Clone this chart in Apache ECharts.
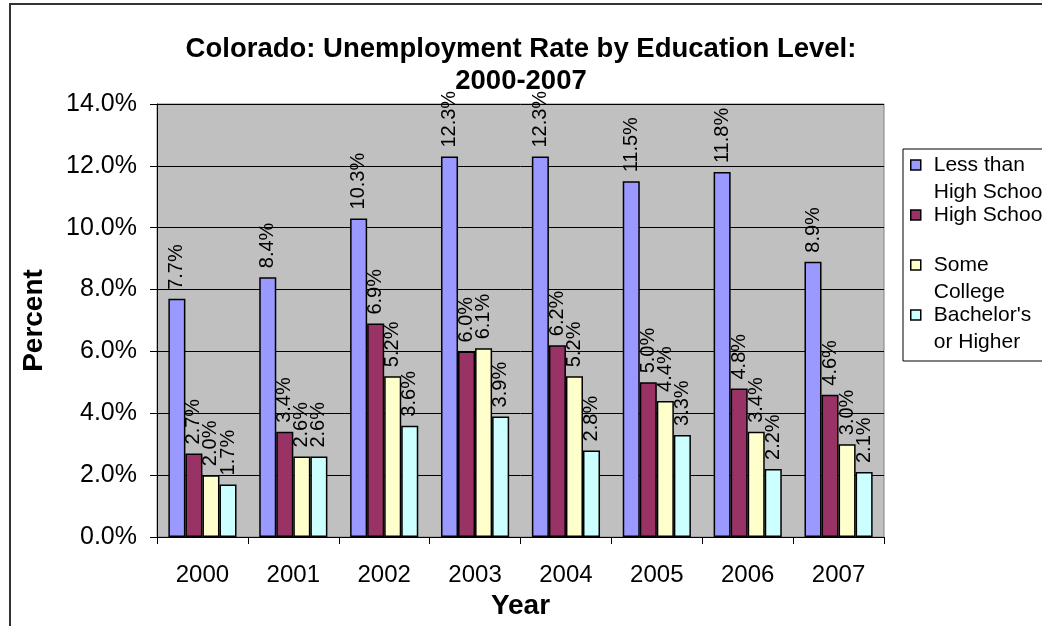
<!DOCTYPE html>
<html>
<head>
<meta charset="utf-8">
<script src="https://cdn.jsdelivr.net/npm/echarts@6/dist/echarts.min.js"></script>
<style>
html,body{margin:0;padding:0;background:#fff;}
#chart{width:1042px;height:626px;}
</style>
</head>
<body>
<div id="chart"></div>
<script>
var years = ['2000','2001','2002','2003','2004','2005','2006','2007'];
var seriesNames = ['Less than High School','High School','Some College',"Bachelor's or Higher"];
var legendLabels = [' \nLess than\nHigh School',' \nHigh School\n ',' \nSome\nCollege'," \nBachelor's\nor Higher"];
var lessThanHS = [7.7, 8.4, 10.3, 12.3, 12.3, 11.5, 11.8, 8.9];
var highSchool = [2.7, 3.4, 6.9, 6.0, 6.2, 5.0, 4.8, 4.6];
var someCollege = [2.0, 2.6, 5.2, 6.1, 5.2, 4.4, 3.4, 3.0];
var bachelors = [1.7, 2.6, 3.6, 3.9, 2.8, 3.3, 2.2, 2.1];
var yTicks = [0, 2, 4, 6, 8, 10, 12, 14];
var colors = ['#9999FF','#993366','#FFFFCC','#CCFFFF'];

var FONT = "'Liberation Sans', Arial, sans-serif";
var chart = echarts.init(document.getElementById('chart'));

function makeSeries(name, data, color) {
  return {
    name: name,
    type: 'bar',
    data: data,
    barGap: '0%',
    barCategoryGap: '25%',
    itemStyle: { color: color, borderColor: '#000', borderWidth: 1.5 },
    label: {
      show: true,
      position: 'top',
      rotate: 90,
      align: 'left',
      verticalAlign: 'middle',
      distance: 9,
      color: '#000',
      fontFamily: FONT,
      fontSize: 20,
      formatter: function (p) { return p.value.toFixed(1) + '%'; }
    }
  };
}

var option = {
  backgroundColor: '#fff',
  animation: false,
  title: {
    text: 'Colorado: Unemployment Rate by Education Level:\n2000-2007',
    left: 'center',
    top: 28,
    textStyle: { fontFamily: FONT, fontSize: 27.5, fontWeight: 'bold', color: '#000', lineHeight: 32 }
  },
  graphic: [
    { type: 'rect', z: 0, shape: { x: 10, y: 4, width: 1100, height: 700 }, style: { fill: 'none', stroke: '#333', lineWidth: 2 } },
    { type: 'rect', z: 1, shape: { x: 903, y: 149, width: 200, height: 212 }, style: { fill: '#fff', stroke: '#000', lineWidth: 1 } }
  ],
  legend: {
    orient: 'vertical',
    left: 910,
    top: 124.5,
    padding: 0,
    z: 10,
    itemWidth: 10,
    itemHeight: 10,
    itemGap: -31,
    icon: 'rect',
    itemStyle: { borderColor: '#000', borderWidth: 1.5 },
    data: seriesNames,
    formatter: function (name) { return legendLabels[seriesNames.indexOf(name)]; },
    textStyle: { fontFamily: FONT, fontSize: 21, color: '#000', lineHeight: 27, padding: [0, 0, 0, 8] }
  },
  grid: {
    left: 157, right: 158, top: 104, bottom: 89,
    show: true, backgroundColor: '#C0C0C0', borderColor: '#808080', borderWidth: 1
  },
  xAxis: {
    type: 'category',
    data: years,
    name: 'Year',
    nameLocation: 'middle',
    nameGap: 51,
    nameTextStyle: { fontFamily: FONT, fontSize: 28, fontWeight: 'bold', color: '#000' },
    axisLine: { show: true, lineStyle: { color: '#000', width: 1 } },
    axisTick: { show: true, length: 7, interval: 0, lineStyle: { color: '#000' } },
    axisLabel: { fontFamily: FONT, fontSize: 24, color: '#000', margin: 26, interval: 0 }
  },
  yAxis: {
    type: 'value',
    min: yTicks[0],
    max: yTicks[yTicks.length - 1],
    interval: 2,
    name: 'Percent',
    nameLocation: 'middle',
    nameGap: 109,
    nameRotate: 90,
    nameTextStyle: { fontFamily: FONT, fontSize: 28, fontWeight: 'bold', color: '#000' },
    axisLine: { show: true, lineStyle: { color: '#000', width: 1 } },
    axisTick: { show: true, length: 7, lineStyle: { color: '#000' } },
    axisLabel: { fontFamily: FONT, fontSize: 25, color: '#000', margin: 20,
      formatter: function (v) { return v.toFixed(1) + '%'; } },
    splitLine: { show: true, lineStyle: { color: '#000', width: 1 } }
  },
  series: [
    makeSeries(seriesNames[0], lessThanHS, colors[0]),
    makeSeries(seriesNames[1], highSchool, colors[1]),
    makeSeries(seriesNames[2], someCollege, colors[2]),
    makeSeries(seriesNames[3], bachelors, colors[3])
  ]
};
chart.setOption(option);
</script>
</body>
</html>
